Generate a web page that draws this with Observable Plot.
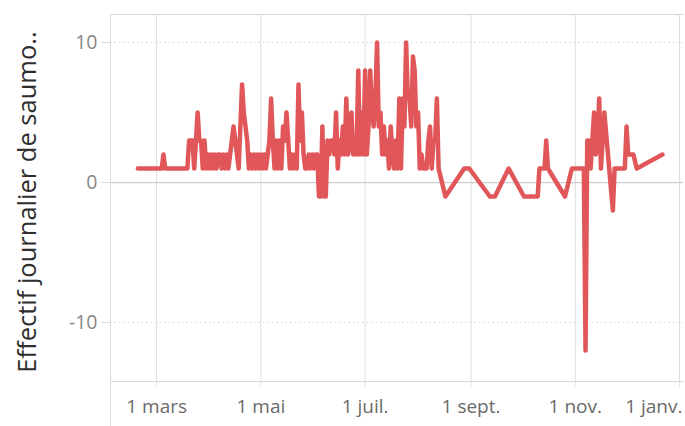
<!DOCTYPE html>
<html><head><meta charset="utf-8">
<script src="https://cdn.jsdelivr.net/npm/d3@7"></script>
<script src="https://cdn.jsdelivr.net/npm/@observablehq/plot@0.6"></script>
<style>
html,body{margin:0;padding:0;background:#fff;}
#chart{width:685px;height:426px;overflow:hidden;}
</style></head><body><div id="chart"></div>
<script>
const dates = [
"2021-02-18","2021-03-04","2021-03-05","2021-03-06","2021-03-19","2021-03-20","2021-03-21","2021-03-22","2021-03-23","2021-03-24",
"2021-03-25","2021-03-26","2021-03-27","2021-03-28","2021-03-29","2021-03-30","2021-03-31","2021-04-01","2021-04-02","2021-04-03",
"2021-04-04","2021-04-05","2021-04-06","2021-04-07","2021-04-08","2021-04-09","2021-04-10","2021-04-11","2021-04-12","2021-04-13",
"2021-04-14","2021-04-15","2021-04-16","2021-04-17","2021-04-18","2021-04-19","2021-04-20","2021-04-21","2021-04-22","2021-04-23",
"2021-04-24","2021-04-25","2021-04-26","2021-04-27","2021-04-28","2021-04-29","2021-04-30","2021-05-01","2021-05-02","2021-05-03",
"2021-05-04","2021-05-05","2021-05-06","2021-05-07","2021-05-08","2021-05-09","2021-05-10","2021-05-11","2021-05-12","2021-05-13",
"2021-05-14","2021-05-15","2021-05-16","2021-05-17","2021-05-18","2021-05-19","2021-05-20","2021-05-21","2021-05-22","2021-05-23",
"2021-05-24","2021-05-25","2021-05-26","2021-05-27","2021-05-28","2021-05-29","2021-05-30","2021-05-31","2021-06-01","2021-06-02",
"2021-06-03","2021-06-04","2021-06-05","2021-06-06","2021-06-07","2021-06-08","2021-06-09","2021-06-10","2021-06-11","2021-06-12",
"2021-06-13","2021-06-14","2021-06-15","2021-06-16","2021-06-17","2021-06-18","2021-06-19","2021-06-20","2021-06-21","2021-06-22",
"2021-06-23","2021-06-24","2021-06-25","2021-06-26","2021-06-27","2021-06-28","2021-06-29","2021-06-30","2021-07-01","2021-07-02",
"2021-07-03","2021-07-04","2021-07-05","2021-07-06","2021-07-07","2021-07-08","2021-07-09","2021-07-10","2021-07-11","2021-07-12",
"2021-07-13","2021-07-14","2021-07-15","2021-07-16","2021-07-17","2021-07-18","2021-07-19","2021-07-20","2021-07-21","2021-07-22",
"2021-07-23","2021-07-24","2021-07-25","2021-07-26","2021-07-27","2021-07-28","2021-07-29","2021-07-30","2021-07-31","2021-08-01",
"2021-08-02","2021-08-03","2021-08-04","2021-08-05","2021-08-06","2021-08-07","2021-08-08","2021-08-09","2021-08-10","2021-08-11",
"2021-08-12","2021-08-13","2021-08-17","2021-08-28","2021-08-31","2021-09-12","2021-09-15","2021-09-23","2021-10-02","2021-10-10",
"2021-10-11","2021-10-14","2021-10-15","2021-10-16","2021-10-26","2021-10-30","2021-11-06","2021-11-07","2021-11-08","2021-11-09",
"2021-11-10","2021-11-11","2021-11-12","2021-11-13","2021-11-14","2021-11-15","2021-11-16","2021-11-17","2021-11-18","2021-11-23",
"2021-11-24","2021-11-30","2021-12-01","2021-12-02","2021-12-05","2021-12-07","2021-12-22"
];
const values = [
1,1,2,1,1,3,3,3,1,3,
5,3,3,1,3,1,2,1,2,1,
2,1,2,2,1,2,1,2,1,2,
3,4,3,2,1,4,7,5,4,3,
1,2,1,2,1,2,1,2,1,2,
1,2,3,6,3,1,3,1,3,1,
4,3,5,3,1,2,1,2,1,7,
3,5,2,1,1,2,1,2,1,2,
2,-1,-1,4,-1,-1,3,2,3,3,
2,5,1,3,2,4,2,6,2,3,
5,2,3,2,8,2,5,2,8,2,
4,8,5,4,6,10,4,5,2,4,
2,3,1,4,2,1,3,1,6,1,
6,4,10,6,6,4,9,8,4,5,
1,2,1,1,1,3,4,1,3,3,
6,1,-1,1,1,-1,-1,1,-1,-1,
1,1,3,1,-1,1,1,-12,3,3,
1,3,5,2,3,6,1,3,5,-2,
1,1,4,2,2,1,2
];
const tickDates = ["2021-03-01","2021-05-01","2021-07-01","2021-09-01","2021-11-01","2022-01-01"];
const tickLabels = ["1 mars","1 mai","1 juil.","1 sept.","1 nov.","1 janv."];
const yTicks = [-10, 0, 10];
const yTitle = "Effectif journalier de saumo..";

const data = dates.map((d, i) => ({date: new Date(d + "T00:00:00Z"), value: values[i]}));
const ticks = tickDates.map(d => new Date(d + "T00:00:00Z"));
const fmt = d => tickLabels[ticks.findIndex(t => +t === +d)];
const xDomain = [new Date("2021-02-02T00:00:00Z"), new Date("2022-01-03T08:00:00Z")];

const chart = Plot.plot({
  width: 685, height: 426,
  marginLeft: 110, marginRight: 2, marginTop: 14, marginBottom: 45,
  style: {fontFamily: "'Open Sans', sans-serif", background: "#fff", overflow: "visible"},
  x: {type: "utc", domain: xDomain},
  y: {domain: [-14.21, 12]},
  marks: [
    Plot.ruleX(ticks, {stroke: "#dedede", strokeWidth: 1}),
    Plot.ruleY([10, -10], {stroke: "#d4d4d4", strokeDasharray: "1.5,3"}),
    Plot.ruleY([0], {stroke: "#cdcdcd", strokeWidth: 1.2}),
    Plot.frame({anchor: "top", stroke: "#d9d9d9"}),
    Plot.frame({anchor: "bottom", stroke: "#d9d9d9"}),
    Plot.ruleX([xDomain[0]], {stroke: "#d9d9d9", insetBottom: -45}),
    Plot.axisX(ticks, {tickFormat: d => (+d === +ticks[5] ? "" : fmt(d)), tickSize: 6, tickPadding: 12, fontSize: 19, fill: "#6a6a6a", stroke: "#e6e6e6", label: null}),
    Plot.axisX([ticks[5]], {tickFormat: fmt, tickSize: 0, tickPadding: 18, textAnchor: "end", dx: 3, fontSize: 19, fill: "#6a6a6a", label: null}),
    Plot.axisY(yTicks, {tickFormat: d => String(d), tickSize: 9, tickPadding: 4, fontSize: 19.5, fill: "#888", stroke: "#dcdcdc", label: null}),
    Plot.line(data, {x: "date", y: "value", stroke: "#e15759", strokeWidth: 4.5, strokeLinejoin: "round", strokeLinecap: "round"}),
    Plot.text([yTitle], {frameAnchor: "left", textAnchor: "middle", dx: -83, dy: 4, rotate: -90, fontSize: 25.5, fill: "#2e2e2e", text: d => d})
  ]
});
document.getElementById("chart").appendChild(chart);
</script>
</body></html>
